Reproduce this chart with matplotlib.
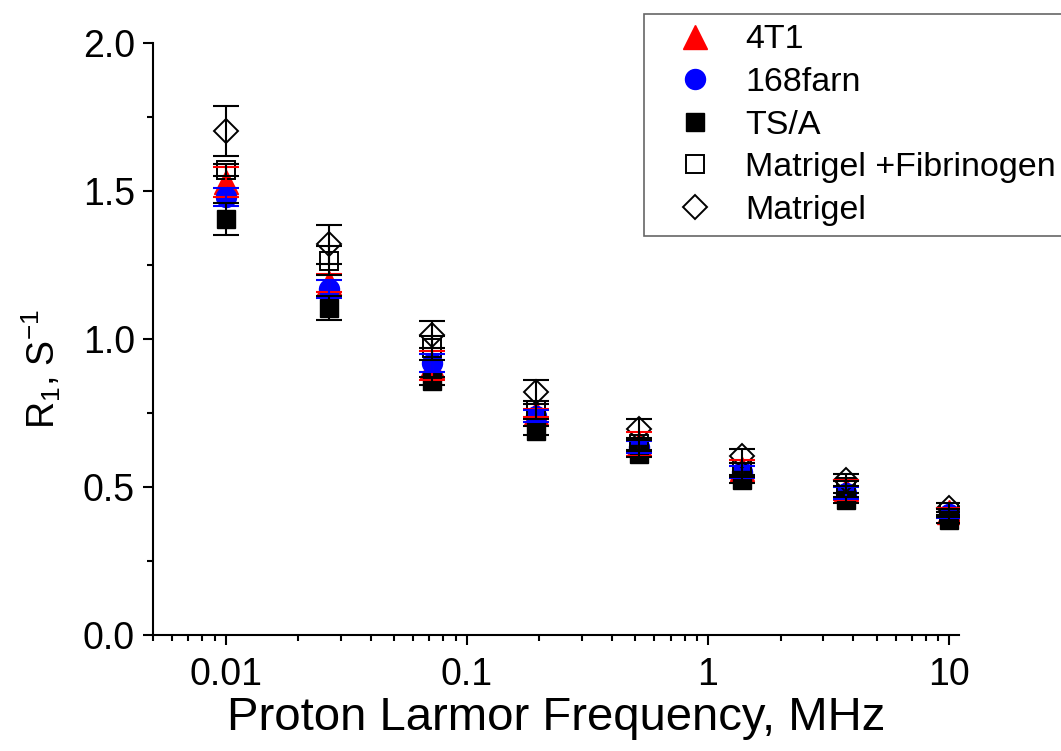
import numpy as np
import matplotlib
matplotlib.use('Agg')
import matplotlib.pyplot as plt
from matplotlib.ticker import LogLocator, MultipleLocator, FixedFormatter, FixedLocator

plt.rcParams['font.family'] = ['Liberation Sans', 'DejaVu Sans']

# Larmor frequencies, MHz
freq = [0.01, 0.0268, 0.072, 0.193, 0.518, 1.39, 3.73, 10]

r1_4t1 = [1.53, 1.19, 0.91, 0.75, 0.645, 0.56, 0.49, 0.415]
err_4t1 = [0.05, 0.03, 0.05, 0.015, 0.04, 0.03, 0.035, 0.015]

r1_168farn = [1.48, 1.17, 0.92, 0.74, 0.635, 0.55, 0.48, 0.41]
err_168farn = [0.03, 0.03, 0.03, 0.02, 0.02, 0.02, 0.02, 0.015]

r1_tsa = [1.405, 1.105, 0.858, 0.69, 0.61, 0.525, 0.455, 0.39]
err_tsa = [0.053, 0.04, 0.015, 0.015, 0.01, 0.01, 0.01, 0.01]

r1_mat_fib = [1.57, 1.265, 0.97, 0.76, 0.645, 0.56, 0.50, 0.415]
err_mat_fib = [0.02, 0.05, 0.04, 0.03, 0.02, 0.02, 0.02, 0.01]

r1_mat = [1.703, 1.32, 1.015, 0.82, 0.695, 0.605, 0.525, 0.43]
err_mat = [0.085, 0.065, 0.047, 0.04, 0.035, 0.025, 0.02, 0.015]

series = [
    ('4T1', r1_4t1, err_4t1, dict(marker='^', ms=17, color='#ff0000', mfc='#ff0000', mec='#ff0000')),
    ('168farn', r1_168farn, err_168farn, dict(marker='o', ms=14.4, color='#0000ff', mfc='#0000ff', mec='#0000ff')),
    ('TS/A', r1_tsa, err_tsa, dict(marker='s', ms=13, color='black', mfc='black', mec='black')),
    ('Matrigel +Fibrinogen', r1_mat_fib, err_mat_fib, dict(marker='s', ms=13, color='black', mfc='none', mec='black', mew=1.4)),
    ('Matrigel', r1_mat, err_mat, dict(marker='D', ms=12.7, color='black', mfc='none', mec='black', mew=1.4)),
]

fig = plt.figure(figsize=(10.61, 7.51), dpi=100)
ax = fig.add_axes([0.1442, 0.1545, 0.7598, 0.7882])

handles = []
for i, (name, y, err, st) in enumerate(series):
    line, = ax.plot(freq, y, ls='none', label=name, zorder=2 + 0.1 * i, **st)
    ax.errorbar(freq, y, yerr=err, fmt='none', ecolor=st['color'], elinewidth=1.5,
                capsize=9.4, capthick=1.5, zorder=3 + 0.1 * i)
    handles.append(line)

ax.set_xscale('log')
ax.set_xlim(0.005, 11)
ax.set_ylim(0, 2.0)

ax.xaxis.set_major_locator(FixedLocator([0.01, 0.1, 1, 10]))
ax.xaxis.set_major_formatter(FixedFormatter(['0.01', '0.1', '1', '10']))
ax.xaxis.set_minor_locator(LogLocator(base=10, subs=np.arange(2, 10)))
ax.yaxis.set_major_locator(MultipleLocator(0.5))
ax.yaxis.set_minor_locator(MultipleLocator(0.25))
ax.yaxis.set_major_formatter(matplotlib.ticker.FormatStrFormatter('%.1f'))

for side in ('top', 'right'):
    ax.spines[side].set_visible(False)
for side in ('left', 'bottom'):
    ax.spines[side].set_linewidth(1.5)

ax.tick_params(which='major', direction='out', length=7, width=1.5, labelsize=27, pad=6)
ax.tick_params(axis='x', which='major', pad=9)
ax.tick_params(which='minor', direction='out', length=4, width=1.5)

ax.set_xlabel('Proton Larmor Frequency, MHz', fontsize=34, labelpad=2)
ax.set_ylabel('R$_\\mathregular{1}$, S$^\\mathregular{-1}$', fontsize=27)
ax.yaxis.set_label_coords(-0.112, 0.45)

leg = fig.legend(handles=handles, loc='upper left', bbox_to_anchor=(0.607, 0.981),
                 fontsize=24.5, numpoints=1, frameon=True, fancybox=False,
                 handlelength=2.4, handletextpad=0.27, labelspacing=0.34,
                 borderpad=0.3, borderaxespad=0)
leg.get_frame().set_edgecolor('#404040')
leg.get_frame().set_linewidth(1.2)

fig.savefig('out.png', dpi=100)
